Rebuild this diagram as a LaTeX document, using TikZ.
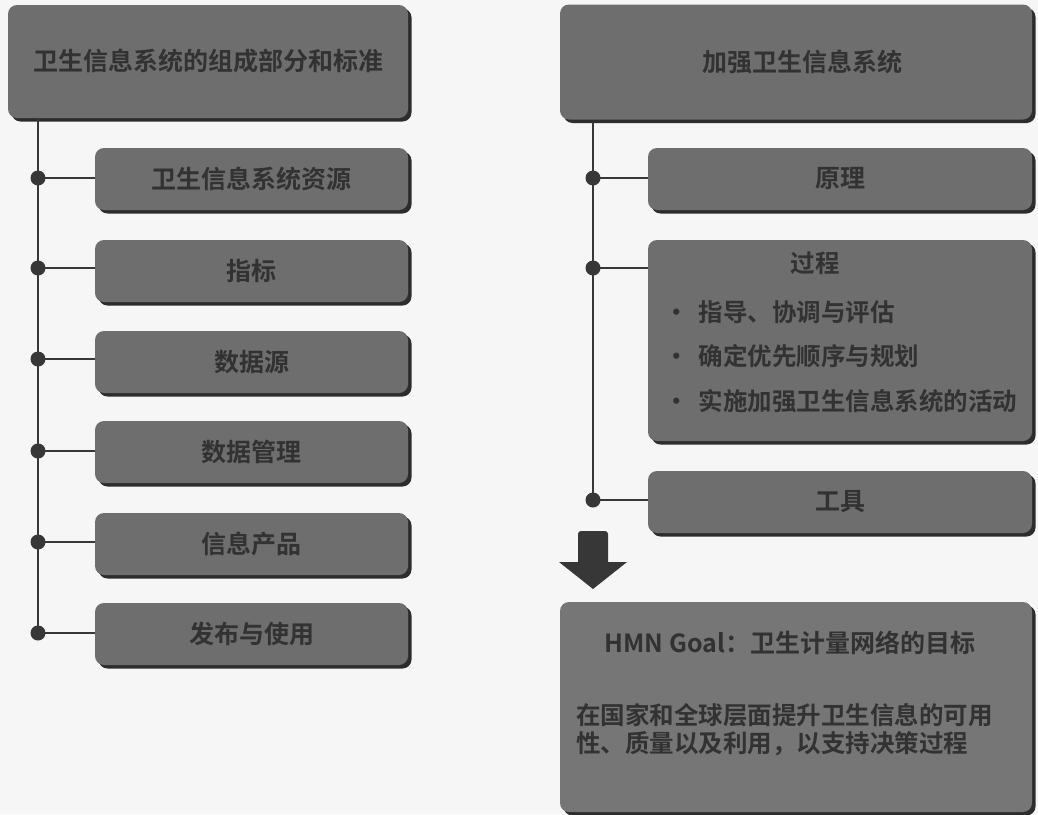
\documentclass[tikz,border=0pt]{standalone}
\usepackage{fontspec}
\newfontfamily\cjk{Noto Sans CJK SC Bold}
\usetikzlibrary{shadows}
\definecolor{boxfill}{RGB}{110,110,110}
\definecolor{boxtext}{RGB}{50,50,50}
\definecolor{shadowc}{RGB}{45,45,45}
\definecolor{linec}{RGB}{55,55,55}
\definecolor{paper}{RGB}{246,246,246}
\tikzset{
  gbox/.style={rounded corners=9pt, fill=boxfill, draw=none, text=boxtext,
    drop shadow={shadow xshift=3.5pt, shadow yshift=-3.5pt, fill=shadowc, opacity=1},
    inner sep=0pt, align=center, font=\cjk\fontsize{25}{30}\selectfont},
  lbl/.style={text=boxtext, inner sep=0pt, font=\cjk\fontsize{24.5}{30}\selectfont},
  joint/.style={circle, fill=linec, inner sep=0pt, minimum size=15pt},
  conn/.style={draw=linec, line width=1.8pt}
}
\begin{document}
\begin{tikzpicture}[x=1pt,y=-1pt]
\useasboundingbox[fill=paper] (0,0) rectangle (1038,814);
% left column
\node[gbox, minimum width=400pt, minimum height=113pt, font=\cjk\fontsize{25}{30}\selectfont] (lh) at (208,61.5) {卫生信息系统的组成部分和标准};
\node[gbox, minimum width=313pt, minimum height=62pt] (l1) at (251.5,179) {卫生信息系统资源};
\node[gbox, minimum width=313pt, minimum height=62pt] (l2) at (251.5,271) {指标};
\node[gbox, minimum width=313pt, minimum height=62pt] (l3) at (251.5,362) {数据源};
\node[gbox, minimum width=313pt, minimum height=62pt] (l4) at (251.5,452) {数据管理};
\node[gbox, minimum width=313pt, minimum height=62pt] (l5) at (251.5,544) {信息产品};
\node[gbox, minimum width=313pt, minimum height=62pt] (l6) at (251.5,634) {发布与使用};
\coordinate (ltop) at (38,118);
\foreach \i/\y in {1/178,2/268,3/359,4/451,5/542,6/633}{
  \node[joint] (ld\i) at (38,\y) {};
}
\draw[conn] (ltop) -- (ld6.center);
\foreach \i in {1,...,6}{
  \draw[conn] (ld\i.center) -- (ld\i.center -| l\i.west);
}
% right column
\node[gbox, minimum width=472pt, minimum height=115pt] (rh) at (796,62) {\hspace{12pt}加强卫生信息系统};
\node[gbox, minimum width=384pt, minimum height=62pt] (r1) at (840,179) {原理};
\node[gbox, minimum width=384pt, minimum height=201pt] (r2) at (840,340.5) {};
\node[lbl] (r2t) at (815,263) {过程};
\node[lbl, anchor=west] (b1) at (664,312) {\textbullet\hspace{10pt}指导、协调与评估};
\node[lbl, anchor=west] (b2) at (664,356) {\textbullet\hspace{10pt}确定优先顺序与规划};
\node[lbl, anchor=west] (b3) at (664,401) {\textbullet\hspace{10pt}实施加强卫生信息系统的活动};
\node[gbox, minimum width=384pt, minimum height=62pt] (r3) at (840,502) {工具};
\coordinate (rtop) at (593,122);
\foreach \i/\y in {1/178,2/268,3/500}{
  \node[joint] (rd\i) at (593,\y) {};
}
\draw[conn] (rtop) -- (rd3.center);
\foreach \i in {1,2,3}{
  \draw[conn] (rd\i.center) -- (rd\i.center -| r\i.west);
}
% block arrow
\fill[linec] (578,562) -- (578,534) [rounded corners=3pt] -- (578,531) -- (608,531) [sharp corners] -- (608,562) -- (627,562) -- (593,589) -- (559,562) -- cycle;
% goal box
\node[gbox, minimum width=472pt, minimum height=210pt, fill={rgb,255:red,118;green,118;blue,118}] (goal) at (796,707) {};
\node[lbl, font=\cjk\fontsize{25}{30}\selectfont] (gt) at (790,643) {HMN Goal：卫生计量网络的目标};
\node[lbl, align=left, anchor=north west, font=\cjk\fontsize{24.5}{28}\selectfont] (gd) at (576,703) {在国家和全球层面提升卫生信息的可用\\性、质量以及利用，以支持决策过程};
\end{tikzpicture}
\end{document}
